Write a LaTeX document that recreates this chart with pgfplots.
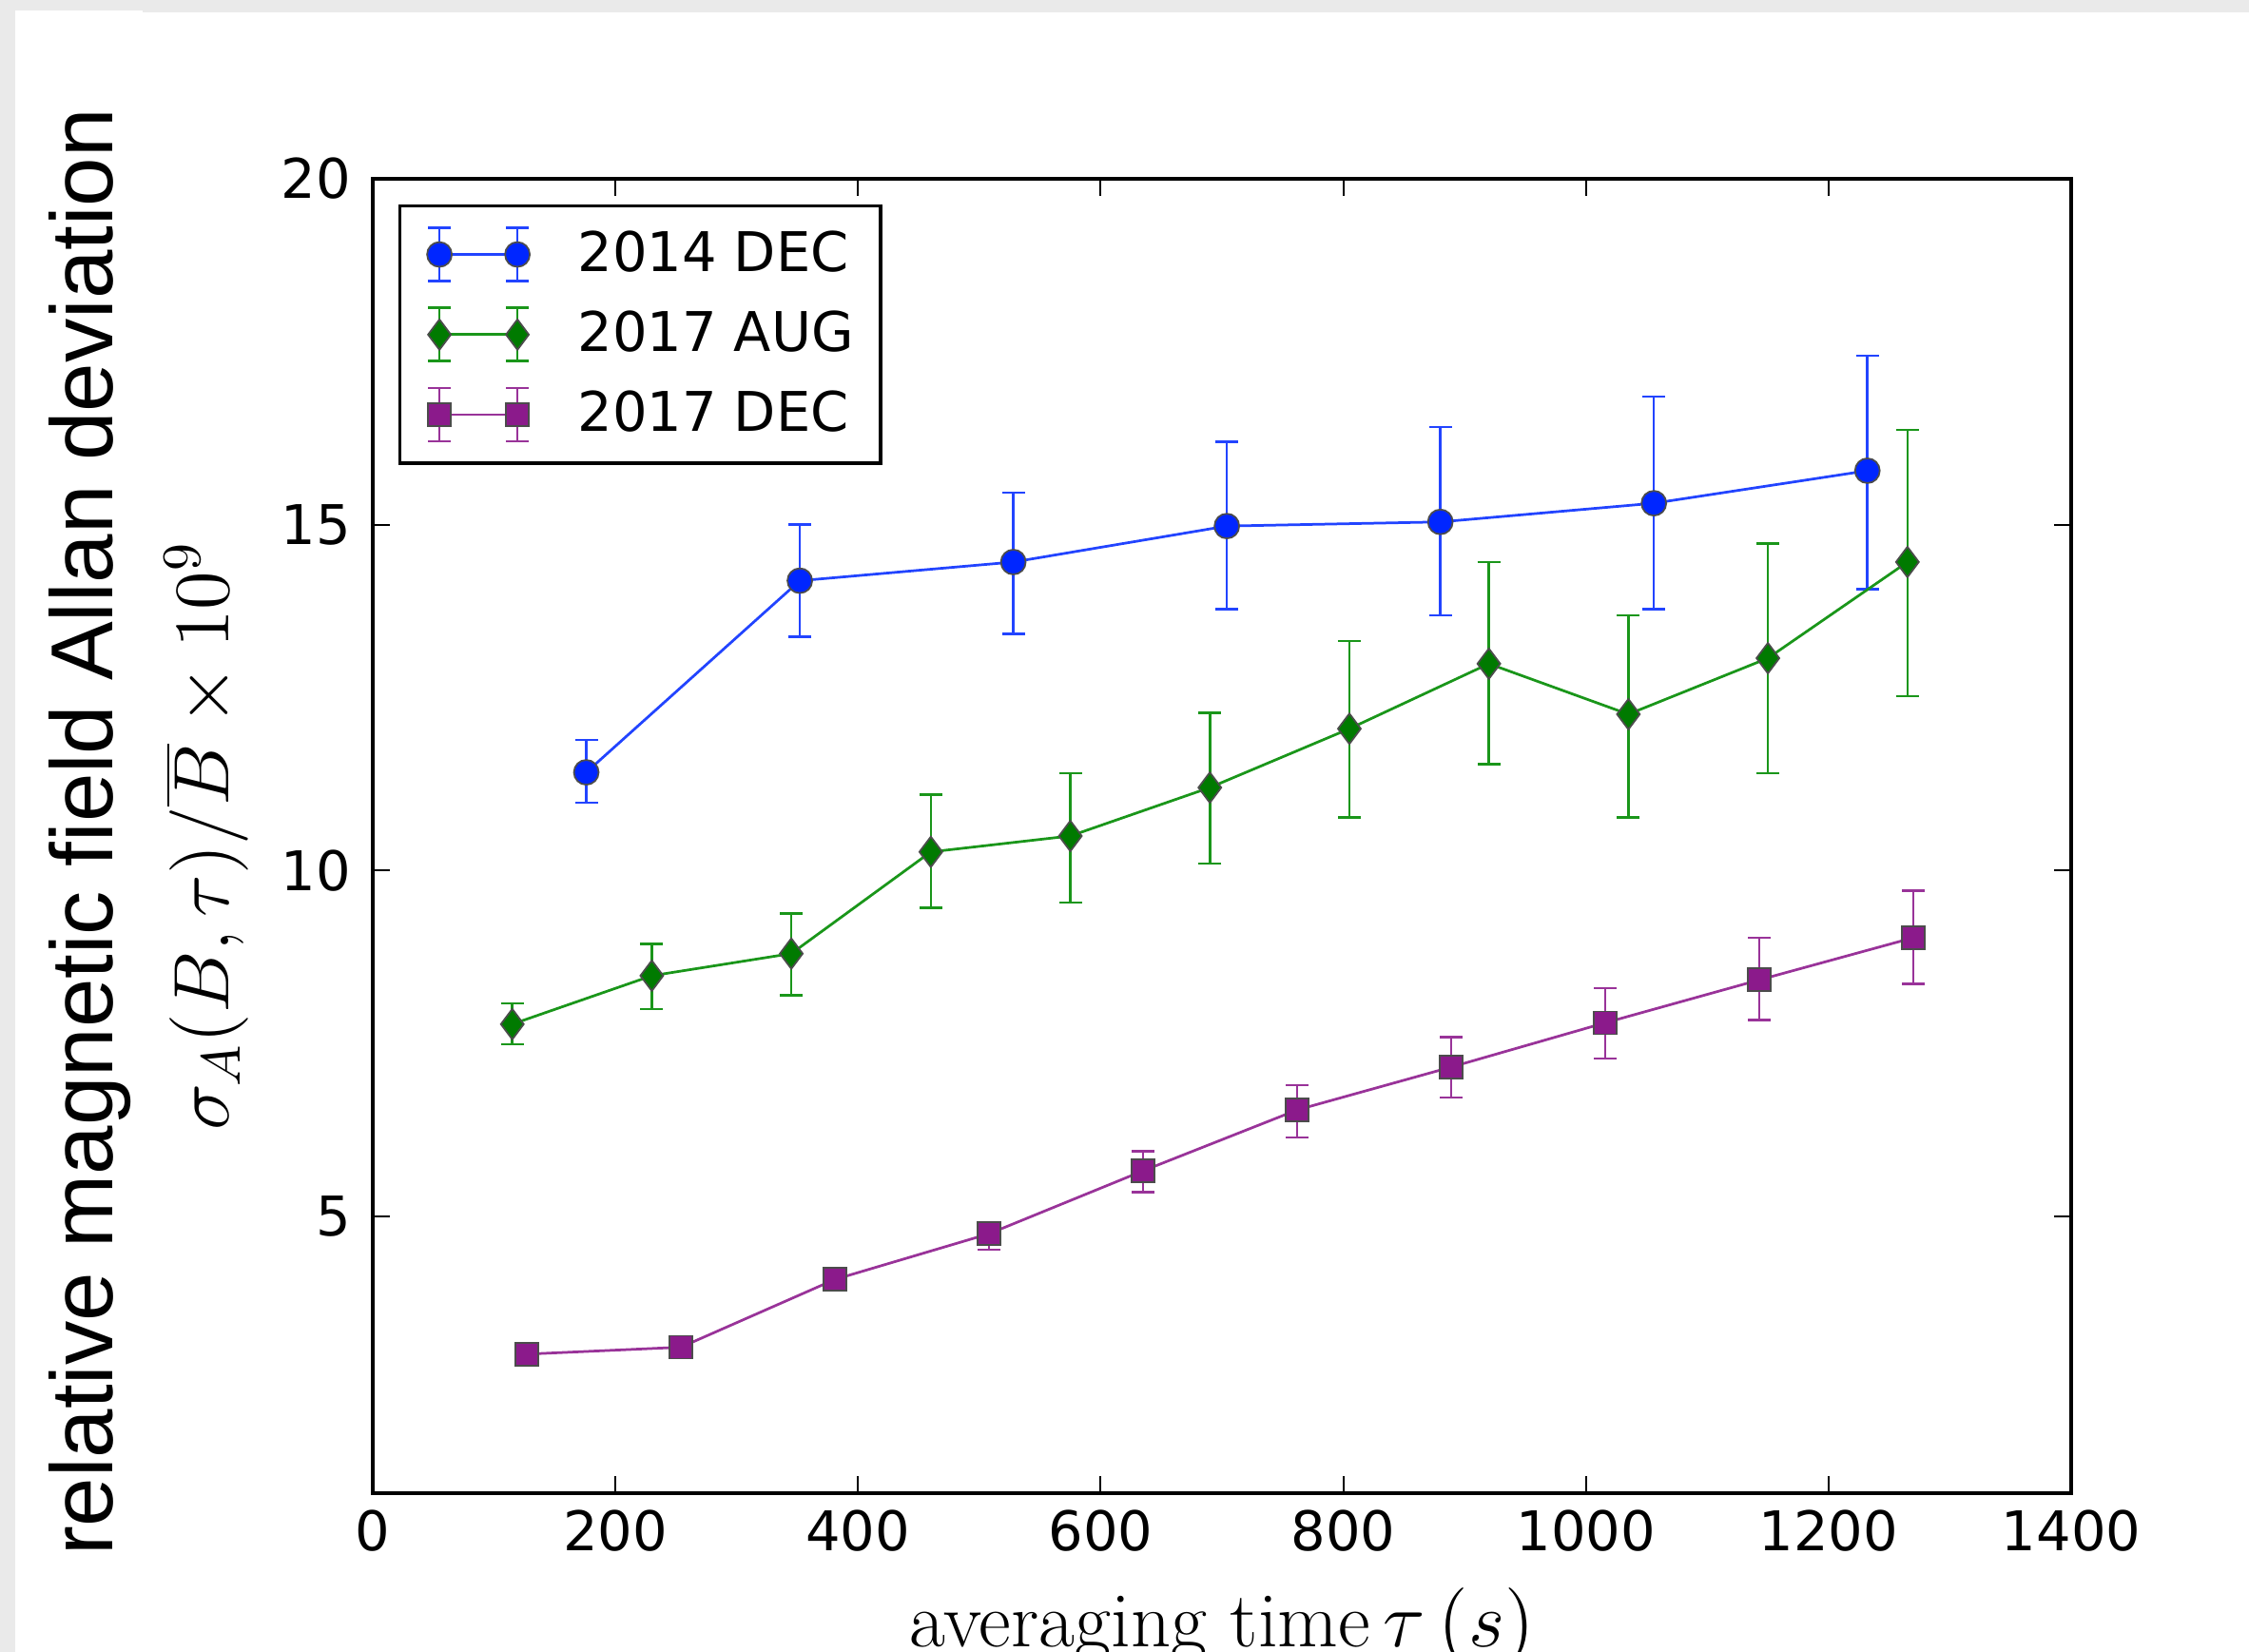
\RequirePackage{fix-cm}
\documentclass[border=0pt]{standalone}
\usepackage{fontspec}
\usepackage{pgfplots}
\usepackage{pgfplotstable}
\pgfplotsset{compat=1.18}
\newfontfamily\dejavu{DejaVu Sans}
\newfontfamily\arialfont{Liberation Sans}
\definecolor{frame}{HTML}{EAEAEA}
\definecolor{bline}{HTML}{2244FF}
\definecolor{bfill}{HTML}{0026FF}
\definecolor{gline}{HTML}{1A961A}
\definecolor{gfill}{HTML}{007A00}
\definecolor{pline}{HTML}{993399}
\definecolor{pfill}{HTML}{8B1A8B}

% x = averaging time, y = deviation, ep/em = upper/lower error
\pgfplotstableread{
x y ep em
176 11.42 0.47 0.44
352 14.19 0.81 0.81
528 14.46 1.00 1.04
704 14.98 1.22 1.20
880 15.04 1.37 1.35
1056 15.31 1.54 1.53
1232 15.78 1.66 1.71
}\dataA
\pgfplotstableread{
x y ep em
115 7.78 0.30 0.29
230 8.48 0.46 0.48
345 8.80 0.58 0.60
460 10.27 0.83 0.81
575 10.50 0.91 0.96
690 11.20 1.08 1.10
805 12.05 1.27 1.28
920 12.99 1.47 1.45
1035 12.26 1.43 1.49
1150 13.07 1.66 1.66
1265 14.46 1.91 1.94
}\dataB
\pgfplotstableread{
x y ep em
127 3.01 0.05 0.05
254 3.11 0.05 0.05
381 4.09 0.10 0.10
508 4.75 0.15 0.23
635 5.66 0.28 0.31
762 6.54 0.36 0.40
889 7.16 0.43 0.44
1016 7.80 0.50 0.52
1143 8.42 0.61 0.58
1270 9.03 0.68 0.67
}\dataC

\begin{document}
\begin{tikzpicture}
\fill[frame] (0,0) rectangle (473pt,347.4pt);
\fill[white] (3.2pt,0) rectangle (473pt,344.8pt);
\fill[white] (3.2pt,0) rectangle (30pt,345.2pt);
\node[rotate=90, anchor=base, font=\arialfont\fontsize{18.5}{22}\selectfont]
  at (23.6pt,172.4pt) {relative magnetic field Allan deviation};
\begin{axis}[
  at={(78.4pt,33.4pt)}, anchor=south west,
  scale only axis, width=357.2pt, height=276.4pt,
  xmin=0, xmax=1400, ymin=1, ymax=20,
  xtick={0,200,...,1400}, ytick={5,10,15,20},
  tick align=inside, major tick length=3.6pt,
  every tick/.style={black, line width=0.4pt},
  axis line style={line width=0.7pt},
  /pgf/number format/assume math mode=true,
  /pgf/number format/1000 sep={},
  ticklabel style={font=\dejavu\fontsize{11.5}{13}\selectfont},
  xticklabel style={inner sep=0pt, yshift=-3.4pt},
  yticklabel style={inner sep=0pt, xshift=-4.4pt},
  xlabel={averaging time\,$\tau\,(s)$},
  ylabel={$\sigma_A(B,\tau)/\overline{B}\times 10^9$},
  xlabel style={at={(axis description cs:0.5,-0.1172)}, anchor=base, font=\fontsize{16.5}{19}\selectfont},
  ylabel style={at={(axis description cs:-0.0851,0.5)}, anchor=base, font=\fontsize{16.5}{19}\selectfont},
  error bars/y dir=both, error bars/y explicit,
  error bars/error bar style={line width=0.5pt},
  error bars/error mark options={rotate=90, mark size=2.4pt, line width=0.5pt},
  legend style={at={(axis description cs:0.0151,0.9805)}, anchor=north west,
    draw=black, line width=0.7pt, font=\dejavu\fontsize{11.5}{13}\selectfont,
    inner xsep=5.6pt, inner ysep=4.3pt, row sep=5.1pt, column sep=10pt,
    nodes={inner sep=0pt}, cells={anchor=west}},
  legend image code/.code={
    \draw[#1] (0pt,-5.6pt) -- (0pt,5.6pt) (-2.4pt,-5.6pt) -- (2.4pt,-5.6pt) (-2.4pt,5.6pt) -- (2.4pt,5.6pt)
      (16.4pt,-5.6pt) -- (16.4pt,5.6pt) (14pt,-5.6pt) -- (18.8pt,-5.6pt) (14pt,5.6pt) -- (18.8pt,5.6pt);
    \draw[#1] plot coordinates {(0pt,0pt) (16.4pt,0pt)};
  },
]
\addplot[color=bline, line width=0.55pt, mark=*, mark size=2.6pt,
  mark options={fill=bfill, draw=black!70, line width=0.35pt}]
  table[x=x, y=y, y error plus=ep, y error minus=em] {\dataA};
\addlegendentry{2014 DEC}
\addplot[color=gline, line width=0.55pt, mark=diamond*, mark size=3.2pt,
  mark options={fill=gfill, draw=black!70, line width=0.35pt}]
  table[x=x, y=y, y error plus=ep, y error minus=em] {\dataB};
\addlegendentry{2017 AUG}
\addplot[color=pline, line width=0.55pt, mark=square*, mark size=2.4pt,
  mark options={fill=pfill, draw=black!70, line width=0.35pt}]
  table[x=x, y=y, y error plus=ep, y error minus=em] {\dataC};
\addlegendentry{2017 DEC}
\end{axis}
\pgfresetboundingbox
\path[use as bounding box] (0,0) rectangle (473pt,347.4pt);
\end{tikzpicture}
\end{document}
